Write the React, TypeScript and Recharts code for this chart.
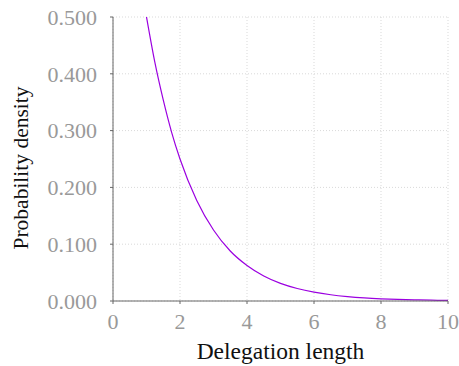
import { LineChart, Line, XAxis, YAxis, CartesianGrid, Label } from "recharts"

// delegation length (x) and probability density (y)
const lengths = [1, 1.25, 1.5, 1.75, 2, 2.5, 3, 3.5, 4, 4.5, 5, 5.5, 6, 6.5, 7, 7.5, 8, 8.5, 9, 9.5, 10]
const densities = [0.5, 0.42, 0.354, 0.297, 0.25, 0.177, 0.125, 0.088, 0.0625, 0.044, 0.031, 0.022, 0.0156, 0.011, 0.0078, 0.0055, 0.0039, 0.0028, 0.002, 0.0014, 0.001]

const xTicks = [0, 2, 4, 6, 8, 10]
const yTicks = [0, 0.1, 0.2, 0.3, 0.4, 0.5]

const font = "'Liberation Serif', 'DejaVu Serif', serif"

const data = lengths.map((x, i) => ({ x, y: densities[i] }))

export default function App() {
  return (
    <div style={{ position: "absolute", left: 0, top: 0, background: "#fff" }}>
      <LineChart width={459} height={366} data={data} margin={{ top: 17, right: 11, bottom: 0, left: 0 }}>
        <CartesianGrid stroke="#d9d9d9" strokeDasharray="1 2" />
        <XAxis
          dataKey="x"
          type="number"
          domain={[0, 10]}
          ticks={xTicks}
          height={65}
          stroke="#666"
          tickSize={3}
          tickMargin={9}
          tick={{ fill: "#999", fontSize: 22, fontFamily: font }}
        >
          <Label value="Delegation length" position="insideBottom" offset={7} style={{ fill: "#111", fontSize: 23.5, fontFamily: font }} />
        </XAxis>
        <YAxis
          type="number"
          domain={[0, 0.5]}
          ticks={yTicks}
          allowDataOverflow
          width={113}
          stroke="#666"
          tickSize={3}
          tickMargin={13}
          tickFormatter={(v: number) => v.toFixed(3)}
          tick={{ fill: "#999", fontSize: 22, fontFamily: font }}
        >
          <Label value="Probability density" angle={-90} position="insideLeft" offset={20} dy={9} style={{ fill: "#111", fontSize: 21.5, fontFamily: font, textAnchor: "middle" }} />
        </YAxis>
        <Line type="monotone" dataKey="y" stroke="#9b00e0" strokeWidth={1.2} dot={false} isAnimationActive={false} />
      </LineChart>
    </div>
  )
}
